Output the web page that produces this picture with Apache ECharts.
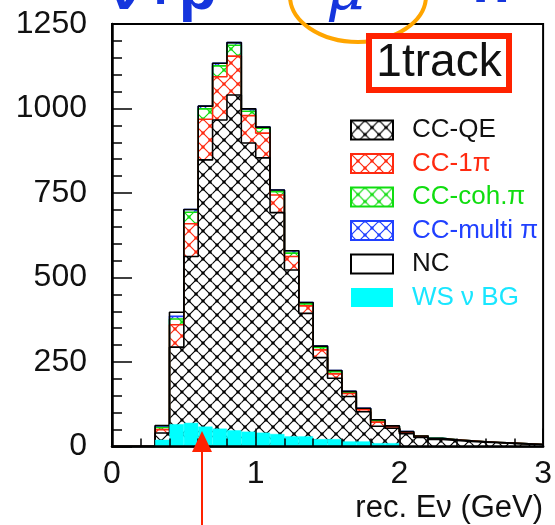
<!DOCTYPE html>
<html><head><meta charset="utf-8">
<script src="https://cdn.jsdelivr.net/npm/echarts@6/dist/echarts.min.js"></script>
<style>html,body{margin:0;padding:0;background:#fff;}#c{width:555px;height:525px;}</style>
</head><body><div id="c"></div>
<script>
// bin lower edges (GeV), bin width 0.1
const binLow = [0.0,0.1,0.2,0.3,0.4,0.5,0.6,0.7,0.8,0.9,1.0,1.1,1.2,1.3,1.4,1.5,1.6,1.7,1.8,1.9,2.0,2.1,2.2,2.3,2.4,2.5,2.6,2.7,2.8,2.9];
const binWidth = 0.1;
const ccqe    = [0,0,0,40,294,562,848,966,1040,898,854,692,522,394,263,202,148,103,60,54,38,27,21,18,15,13,11,9,7,6];
const cc1pi   = [0,0,0,10,66,97,120,128,115,81,73,52,40,22,23,13,9,6,12,4,4,3,2,2,2,1,1,1,1,0];
const cccoh   = [0,0,0,6,17,34,31,32,32,13,15,10,10,6,7,6,3,2,4,2,1,1,1,0,0,0,0,0,0,0];
const ccmulti = [0,0,0,4,8,8,8,8,8,7,3,5,7,4,4,4,3,2,3,1,1,0,0,0,0,0,0,0,0,0];
const nc      = [0,0,0,2,12,0,0,0,0,0,0,0,0,0,0,0,0,0,0,0,0,0,0,0,0,0,0,0,0,0];
const wsbg    = [0,0,0,20,66,70,59,53,48,44,41,37,30,30,22,22,15,15,10,10,0,0,0,0,0,0,0,0,0,0];
const xTicks = [0,1,2,3];
const yTicks = [0,250,500,750,1000,1250];
const names = ['CC-QE','CC-1π','CC-coh.π','CC-multi π','NC','WS ν BG'];

const RED='#ff2a10', GREEN='#10dd10', BLUE='#2040ff', CYAN='#00ffff', CYANTXT='#19e6ff', BLK='#000';
const FONT='"Liberation Sans", Arial, sans-serif';

function hatch(color){
  const s=14, c=document.createElement('canvas'); c.width=s; c.height=s;
  const g=c.getContext('2d'); g.fillStyle='#fff'; g.fillRect(0,0,s,s);
  g.strokeStyle=color; g.lineWidth=1.2;
  g.beginPath(); g.moveTo(-1,-1); g.lineTo(s+1,s+1); g.moveTo(s+1,-1); g.lineTo(-1,s+1); g.stroke();
  g.fillStyle=color; g.fillRect(s/2-1.5,s/2-1.5,3,3);
  g.fillRect(0,0,1.5,1.5); g.fillRect(s-1.5,0,1.5,1.5); g.fillRect(0,s-1.5,1.5,1.5); g.fillRect(s-1.5,s-1.5,1.5,1.5);
  return {image:c, repeat:'repeat'};
}

const cats = binLow.map(v=>v.toFixed(1));
function cum(arrs){ return binLow.map((_,i)=>arrs.reduce((a,b)=>a+b[i],0)); }
function stepData(vals){
  const d = binLow.map((x,i)=>[x, vals[i]]);
  d.push([binLow[binLow.length-1]+binWidth, vals[vals.length-1]]);
  return d;
}
const cQE = cum([ccqe]), c1 = cum([ccqe,cc1pi]), c2 = cum([ccqe,cc1pi,cccoh]),
      c3 = cum([ccqe,cc1pi,cccoh,ccmulti]), cT = cum([ccqe,cc1pi,cccoh,ccmulti,nc]);

function barS(name, data, color){
  return {name, type:'bar', stack:'tot', xAxisIndex:0, yAxisIndex:0, data,
    barCategoryGap:'0%', barGap:'-100%', z:2, silent:true,
    itemStyle:{color, borderWidth:0}};
}
function lineS(name, vals, color){
  return {name, type:'line', step:'end', xAxisIndex:1, yAxisIndex:0, data:stepData(vals),
    symbol:'none', z:3, silent:true, lineStyle:{color, width:1.6}};
}

const chart = echarts.init(document.getElementById('c'), null, {renderer:'canvas'});
chart.setOption({
  animation:false,
  backgroundColor:'#fff',
  grid:{left:112, right:3.5, top:24, bottom:78.5, show:true, borderColor:'#000', borderWidth:2, backgroundColor:'transparent'},
  xAxis:[
    {type:'category', data:cats, show:false, boundaryGap:true},
    {type:'value', min:xTicks[0], max:xTicks[xTicks.length-1], interval:1, position:'bottom', z:10,
     axisLine:{show:true, lineStyle:{color:'#000', width:2.5}},
     axisTick:{show:true, inside:true, length:18, lineStyle:{color:'#000', width:1.5}},
     minorTick:{show:true, splitNumber:5, length:8, lineStyle:{color:'#000', width:1.5}},
     splitLine:{show:false},
     axisLabel:{fontSize:32, color:'#111', fontFamily:FONT, margin:12, showMaxLabel:true, showMinLabel:true, formatter:v=>String(v)},
     name:'rec. Eν (GeV)', nameLocation:'end', nameGap:0,
     nameTextStyle:{fontSize:31, color:'#111', fontFamily:FONT, align:'right', verticalAlign:'top', padding:[46,0,0,0]}}
  ],
  yAxis:[{type:'value', min:yTicks[0], max:yTicks[yTicks.length-1], interval:250, z:10,
     axisLine:{show:true, lineStyle:{color:'#000', width:2.5}},
     axisTick:{show:true, inside:true, length:20, lineStyle:{color:'#000', width:1.5}},
     minorTick:{show:true, splitNumber:5, length:10, lineStyle:{color:'#000', width:1.5}},
     splitLine:{show:false},
     axisLabel:{fontSize:32, color:'#111', fontFamily:FONT, margin:25, formatter:v=>String(v)}}],
  legend:{orient:'vertical', left:345, top:112, itemWidth:42, itemHeight:19, itemGap:7.5, icon:'rect',
    selectedMode:false,
    textStyle:{fontSize:26, fontFamily:FONT, padding:[0,0,0,14]},
    data:[
      {name:names[0], itemStyle:{borderColor:BLK, borderWidth:2}, textStyle:{color:'#111'}},
      {name:names[1], itemStyle:{borderColor:RED, borderWidth:2}, textStyle:{color:RED}},
      {name:names[2], itemStyle:{borderColor:GREEN, borderWidth:2}, textStyle:{color:GREEN}},
      {name:names[3], itemStyle:{borderColor:BLUE, borderWidth:2}, textStyle:{color:BLUE}},
      {name:names[4], itemStyle:{borderColor:BLK, borderWidth:2}, textStyle:{color:'#111'}},
      {name:names[5], itemStyle:{borderWidth:0}, textStyle:{color:CYANTXT}}
    ]},
  series:[
    barS(names[0], ccqe, hatch(BLK)),
    barS(names[1], cc1pi, hatch(RED)),
    barS(names[2], cccoh, hatch(GREEN)),
    barS(names[3], ccmulti, hatch(BLUE)),
    barS(names[4], nc, '#fff'),
    {name:names[5], type:'bar', xAxisIndex:0, yAxisIndex:0, data:wsbg, barCategoryGap:'0%', barGap:'-100%', z:4, silent:true,
     itemStyle:{color:CYAN, borderColor:CYAN, borderWidth:0.5}},
    lineS('o-multi', c3, BLUE),
    lineS('o-coh', c2, GREEN),
    lineS('o-1pi', c1, RED),
    lineS('o-qe', cQE, BLK),
    lineS('o-tot', cT, BLK)
  ],
  graphic:[
    {type:'text', x:108, y:-8, z:100, style:{text:'ν+p', font:'bold 62px '+FONT, fill:'#1535dd', verticalAlign:'middle'}},
    {type:'text', x:326, y:-6, z:100, style:{text:'μ', font:'italic 60px "DejaVu Serif", serif', fill:'#1535dd', verticalAlign:'middle'}},
    {type:'text', x:472, y:-15, z:100, style:{text:'n', font:'bold 62px '+FONT, fill:'#1535dd', verticalAlign:'middle'}},
    {type:'ellipse', z:100, shape:{cx:358, cy:-4, rx:68, ry:46}, style:{fill:null, stroke:'#ffa500', lineWidth:4}},
    {type:'rect', z:100, shape:{x:369, y:36, width:140, height:54}, style:{fill:'#fff', stroke:'#ff2200', lineWidth:6}},
    {type:'text', x:439, y:63, z:101, style:{text:'1track', font:'46px '+FONT, fill:'#111', align:'center', verticalAlign:'middle'}},
    {type:'line', z:100, shape:{x1:202, y1:525, x2:202, y2:450}, style:{stroke:'#ff2200', lineWidth:2}},
    {type:'polygon', z:100, shape:{points:[[202,431],[192,452],[212,452]]}, style:{fill:'#ff2200'}}
  ]
});
</script></body></html>
